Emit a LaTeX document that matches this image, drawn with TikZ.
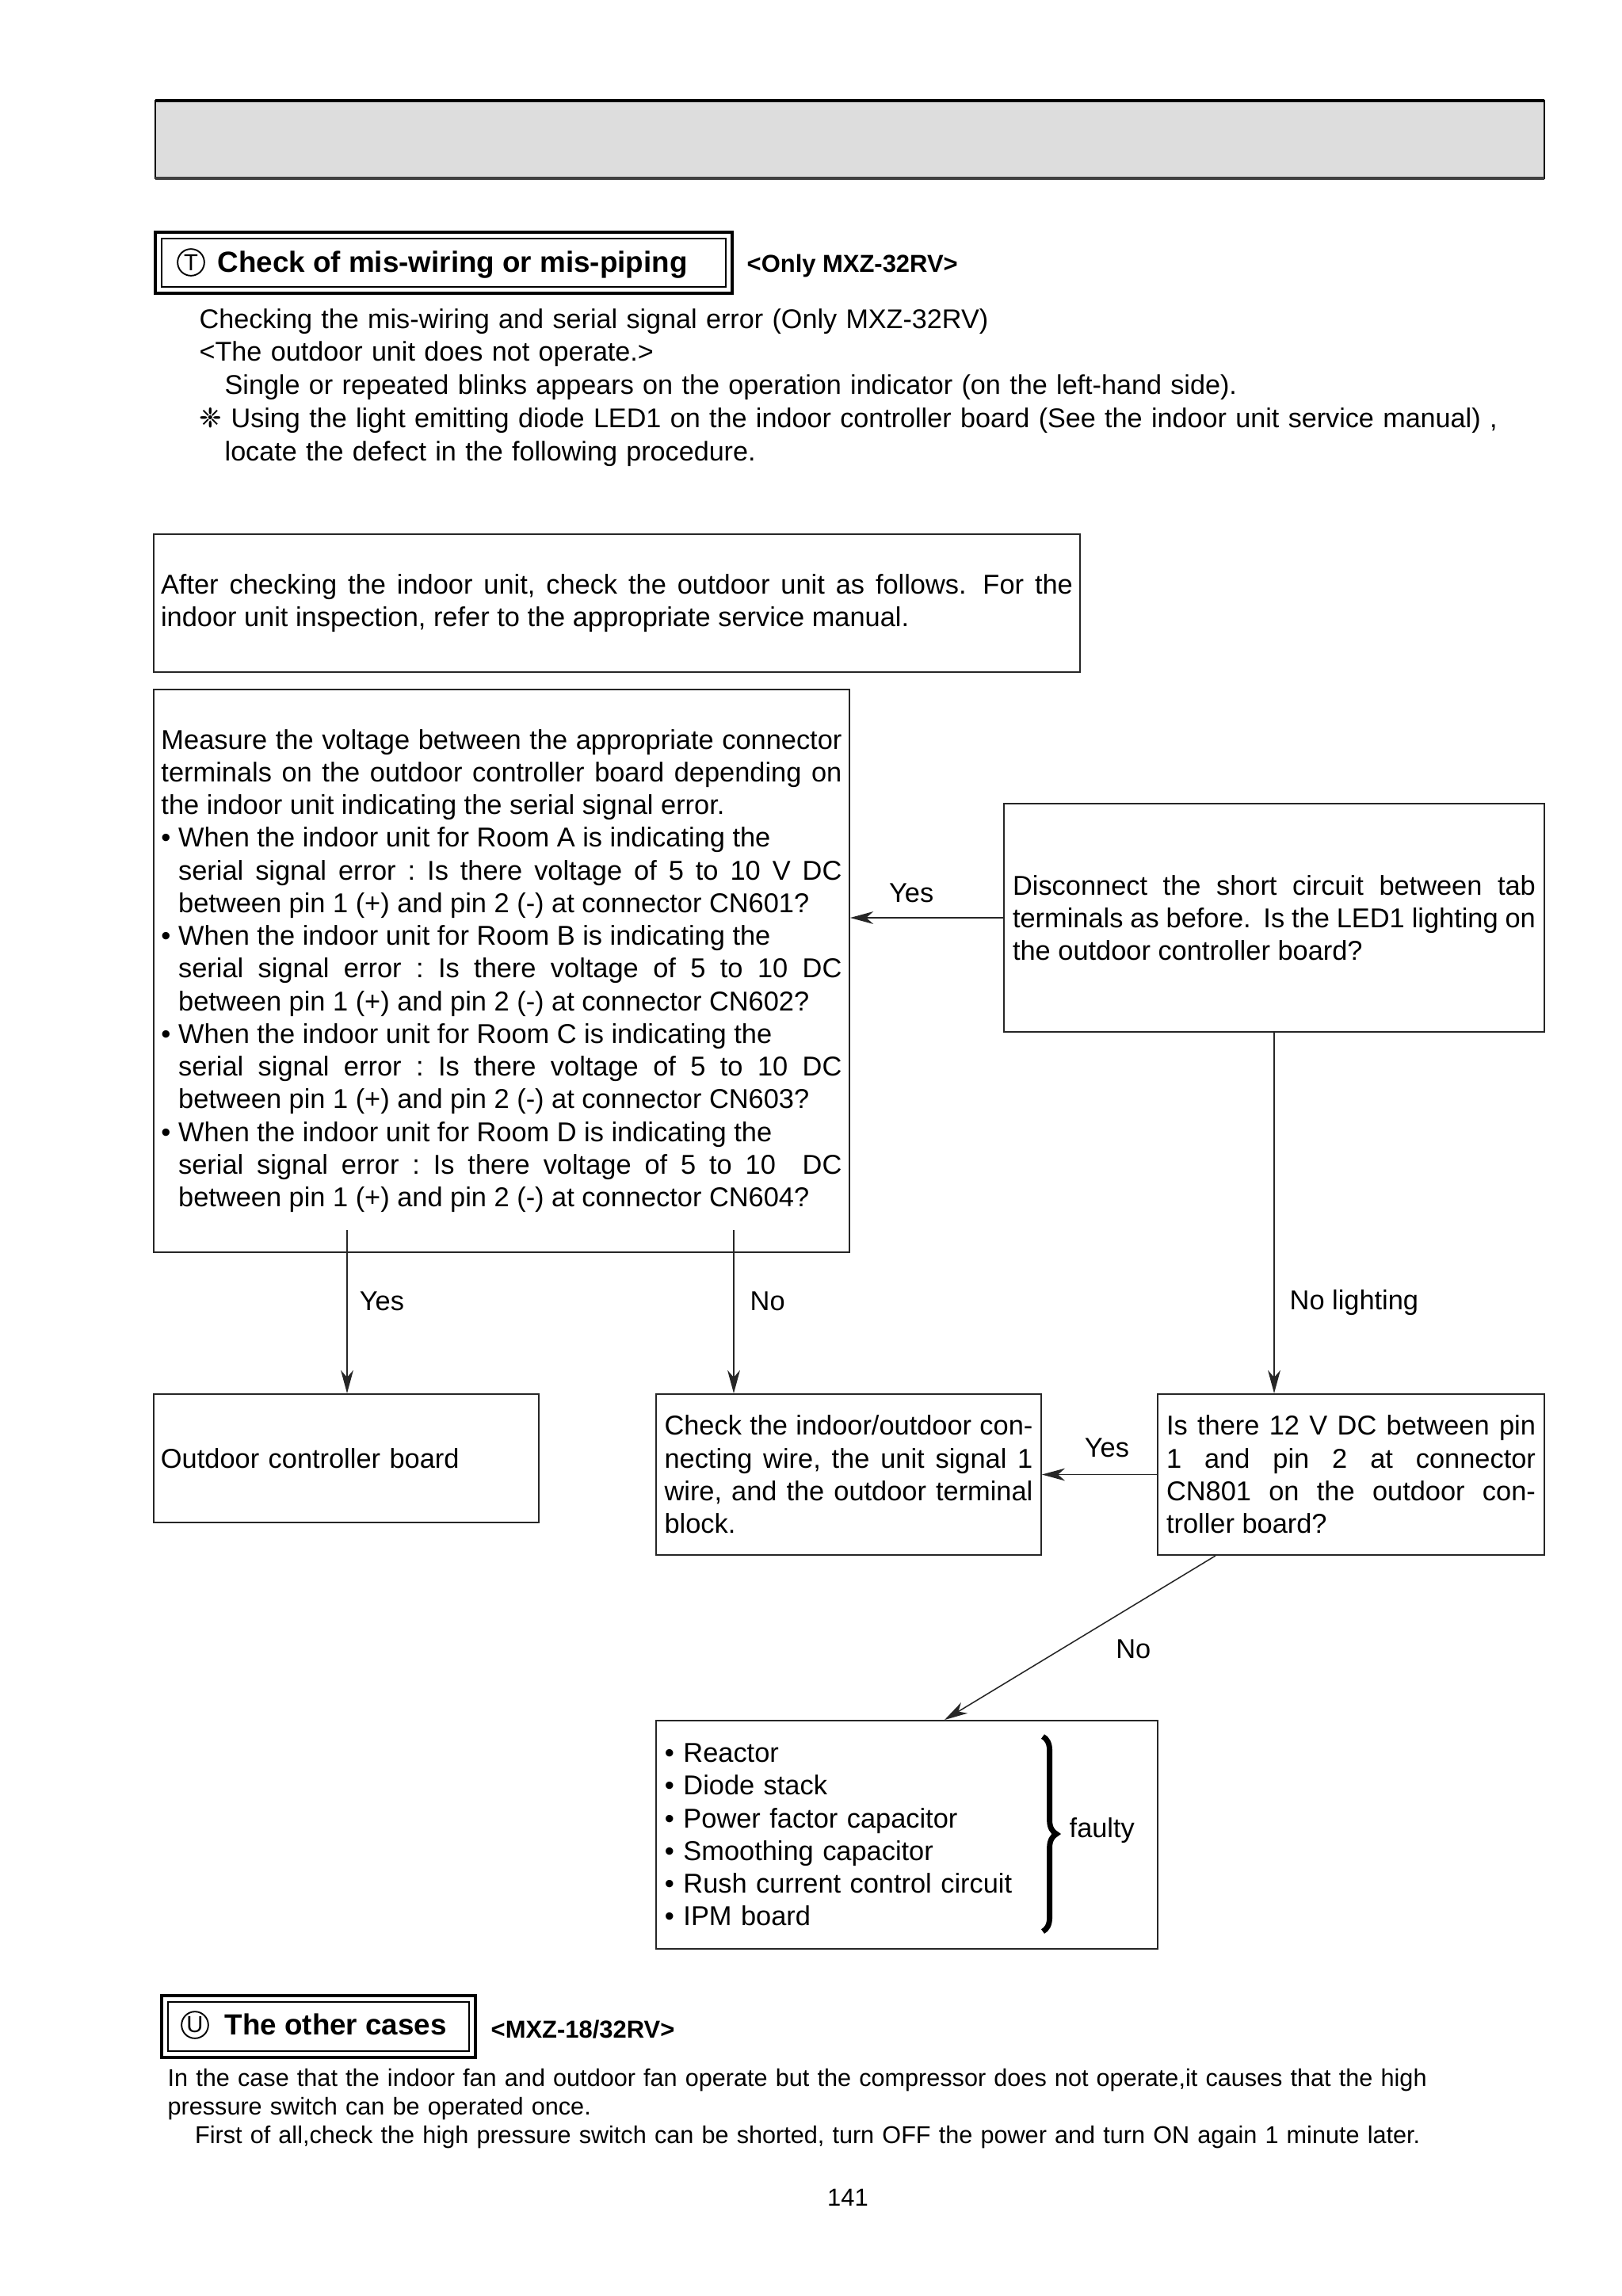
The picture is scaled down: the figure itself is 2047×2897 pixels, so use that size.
\documentclass[tikz,border=0pt]{standalone}
\usepackage{fontspec}
\setmainfont{Liberation Sans}
\newfontfamily\symfont{DejaVu Sans}
\usetikzlibrary{arrows.meta,calc,decorations.pathreplacing}
\definecolor{hdr}{HTML}{DDDDDD}
\begin{document}
\begin{tikzpicture}[x=0.2908pt, y=-0.2908pt,
  every node/.style={inner sep=0pt},
  boxn/.style={draw=black!85, line width=0.55pt, font=\fontsize{10}{12}\selectfont\frenchspacing, align=justify},
  arr/.style={draw=black!85, line width=0.45pt, -{Stealth[length=8.5pt, width=4.6pt, inset=2.6pt]}},
  lbl/.style={font=\fontsize{10}{12}\selectfont, inner sep=0pt},
  titlef/.style={font=\bfseries\fontsize{10.7}{13}\selectfont},
  subf/.style={font=\bfseries\fontsize{9}{11}\selectfont},
  circ/.style={circle, draw, line width=0.55pt, minimum size=9.8pt, inner sep=0pt, font=\fontsize{8.5}{9}\selectfont},
]
\useasboundingbox (0,0) rectangle (2047,2897);

% header band
\fill[hdr] (196,127) rectangle (1949,225);
\draw[line width=0.5pt] (196,127) rectangle (1949,225);
\draw[line width=1pt] (196,127) -- (1949,127);
\draw[line width=1.3pt, black!75] (196,225) -- (1949,225);

% section T title
\draw[line width=1.1pt] (196,293) rectangle (924,370);
\draw[line width=0.5pt] (204,301) rectangle (916,362);
\node[circ] (tc) at (241,331) {T};
\node[titlef, anchor=base west] (tt) at (274,343) {Check of mis-wiring or mis-piping};
\node[subf, anchor=base west] (tm) at (942,343) {<Only MXZ-32RV>};

% intro text
\node[anchor=base west, text width=520pt, align=left, font=\fontsize{9.93}{12.2}\selectfont] (intro) at (251,414)
{Checking the mis-wiring and serial signal error (Only MXZ-32RV)\\
<The outdoor unit does not operate.>\\
\hspace*{9.3pt}Single or repeated blinks appears on the operation indicator (on the left-hand side).\\
{\symfont ❈} Using the light emitting diode LED1 on the indoor controller board (See the indoor unit service manual) ,\\
\hspace*{9.3pt}locate the defect in the following procedure.};

% boxes
\node[boxn, minimum width=339.9pt, minimum height=50.6pt, text width=334.7pt, inner xsep=2.62pt] (A) at (778.5,761)
{After checking the indoor unit, check the outdoor unit as follows.\hspace{2pt} For the\linebreak indoor unit inspection, refer to the appropriate service manual.};

\node[boxn, minimum width=255.3pt, minimum height=206.5pt, text width=249.8pt, inner xsep=2.76pt] (B) at (633,1225)
{Measure the voltage between the appropriate connector\linebreak
terminals on the outdoor controller board depending on\linebreak
the indoor unit indicating the serial signal error.\par
\hangindent=6.3pt\hangafter=1 •\ When the indoor unit for Room A is indicating the\newline
serial signal error : Is there voltage of 5 to 10 V DC\linebreak
between pin 1 (+) and pin 2 (-) at connector CN601?\par
\hangindent=6.3pt\hangafter=1 •\ When the indoor unit for Room B is indicating the\newline
serial signal error : Is there voltage of 5 to 10 DC\linebreak
between pin 1 (+) and pin 2 (-) at connector CN602?\par
\hangindent=6.3pt\hangafter=1 •\ When the indoor unit for Room C is indicating the\newline
serial signal error : Is there voltage of 5 to 10 DC\linebreak
between pin 1 (+) and pin 2 (-) at connector CN603?\par
\hangindent=6.3pt\hangafter=1 •\ When the indoor unit for Room D is indicating the\newline
serial signal error : Is there voltage of 5 to 10 \ DC\linebreak
between pin 1 (+) and pin 2 (-) at connector CN604?\par};

\node[boxn, minimum width=198.3pt, minimum height=83.75pt, text width=191.9pt, inner xsep=3.2pt] (C) at (1608,1158)
{Disconnect the short circuit between tab\linebreak terminals as before.\hspace{2pt} Is the LED1 lighting on\linebreak the outdoor controller board?};

\node[boxn, align=left, minimum width=141.3pt, minimum height=47.1pt, text width=136.1pt, inner xsep=2.62pt] (D) at (437,1840)
{Outdoor controller board};

\node[boxn, minimum width=141.3pt, minimum height=59pt, text width=135.2pt, inner xsep=3.05pt] (E) at (1071,1860.5)
{Check the indoor/outdoor con-\linebreak necting wire, the unit signal 1\linebreak wire, and the outdoor terminal\linebreak block.};

\node[boxn, minimum width=141.9pt, minimum height=59pt, text width=135.5pt, inner xsep=3.2pt] (F) at (1705,1860.5)
{Is there 12 V DC between pin\linebreak 1 and pin 2 at connector\linebreak CN801 on the outdoor con-\linebreak troller board?};

\node[boxn, align=left, minimum width=184.1pt, minimum height=83.75pt, text width=177.7pt, inner xsep=3.2pt] (G) at (1144.5,2315)
{• Reactor\\ • Diode stack\\ • Power factor capacitor\\ • Smoothing capacitor\\ • Rush current control circuit\\ • IPM board};

% brace and "faulty"
\coordinate (brt) at (1316,2191);
\coordinate (brb) at (1316,2437);
\draw[line width=2pt, decorate, decoration={brace, amplitude=5pt}] (brt) -- (brb);
\node[lbl, anchor=base west] (faulty) at (1349,2318) {faulty};

% connectors
\coordinate (b1) at (438,1552);
\coordinate (b2) at (926,1552);
\draw[arr] (b1) -- node[lbl, pos=0.49, anchor=base west, xshift=4.4pt] {Yes} (b1 |- D.north);
\draw[arr] (b2) -- node[lbl, pos=0.49, anchor=base west, xshift=5.8pt] {No} (b2 |- E.north);
\draw[arr] (C.west) -- node[lbl, pos=0.6, anchor=base, yshift=5.8pt] {Yes} (C.west -| B.east);
\draw[arr] (C.south) -- node[lbl, pos=0.768, anchor=base west, xshift=5.5pt] {No lighting} (C.south |- F.north);
\draw[arr] (F.west) -- node[lbl, pos=0.435, anchor=base, yshift=6.4pt] {Yes} (F.west -| E.east);
\draw[arr] ($(F.south west)+(74,0)$) -- node[lbl, pos=0.627, anchor=base west, xshift=25.6pt] {No} ($(G.north)+(47.5,0)$);

% section U title
\draw[line width=1.1pt] (204,2518) rectangle (600,2596);
\draw[line width=0.5pt] (212,2526) rectangle (592,2588);
\node[circ] (uc) at (246,2555) {U};
\node[titlef, anchor=base west] (ut) at (283,2567) {The other cases};
\node[subf, anchor=base west] (um) at (619,2571) {<MXZ-18/32RV>};

% bottom paragraph
\node[anchor=base west, text width=520pt, align=left, font=\fontsize{8.9}{10.5}\selectfont] (para) at (211,2632)
{In the case that the indoor fan and outdoor fan operate but the compressor does not operate,it causes that the high\\
pressure switch can be operated once.\\
\hspace*{10pt}First of all,check the high pressure switch can be shorted, turn OFF the power and turn ON again 1 minute later.};

\node[font=\fontsize{9}{11}\selectfont, anchor=base] (pg) at (1070,2783) {141};
\end{tikzpicture}
\end{document}
